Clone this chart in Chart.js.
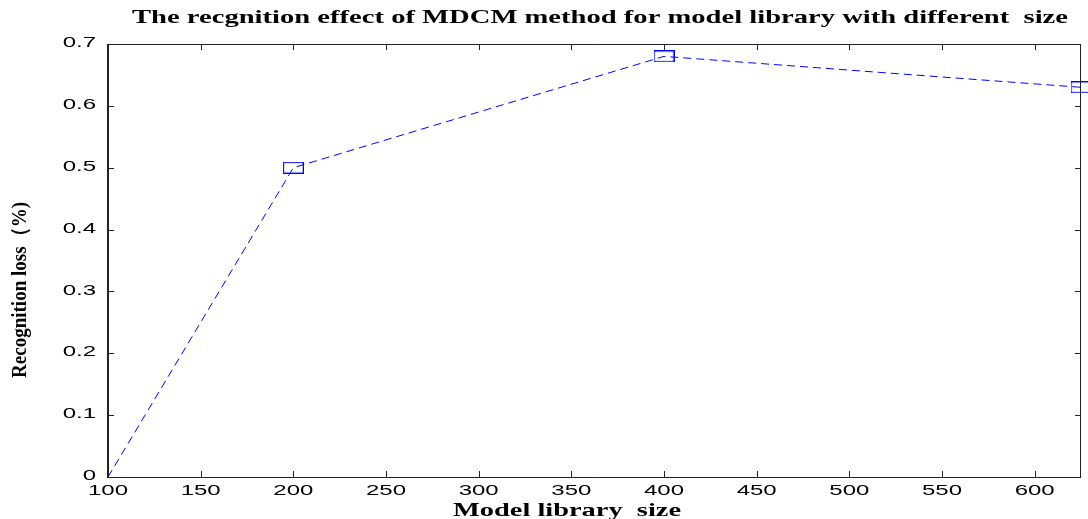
<!DOCTYPE html>
<html>
<head>
<meta charset="utf-8">
<script src="https://cdn.jsdelivr.net/npm/chart.js@4.4.0/dist/chart.umd.min.js"></script>
<style>
  html, body { margin: 0; padding: 0; background: #fff; }
  #wrap { width: 1088px; height: 519px; }
</style>
</head>
<body>
<div id="wrap"><canvas id="chart" width="1088" height="519"></canvas></div>
<script>
// data
const librarySize = [100, 200, 400, 625];
const recognitionLoss = [0, 0.5, 0.68, 0.63];
const xTickValues = [100, 150, 200, 250, 300, 350, 400, 450, 500, 550, 600];
const yTickValues = [0, 0.1, 0.2, 0.3, 0.4, 0.5, 0.6, 0.7];
const yTickLabels = ['0', '0.1', '0.2', '0.3', '0.4', '0.5', '0.6', '0.7'];

const chartTitle = 'The recgnition effect of MDCM method for model library with different  size';
const xTitle = 'Model library  size';
const yTitle = 'Recognition loss\uFF08%)';

// hollow box marker, a bit wider than tall like the original
function makeMarker() {
    const c = document.createElement('canvas');
    c.width = 21; c.height = 12;
    const g = c.getContext('2d');
    g.strokeStyle = '#0000ff';
    g.lineWidth = 1.2;
    g.strokeRect(0.6, 0.6, 19.8, 10.8);
    return c;
}

// draw text squeezed/stretched to a given width
function fitText(ctx, text, x, y, font, width, rotate) {
    ctx.save();
    ctx.font = font;
    const w = ctx.measureText(text).width;
    ctx.translate(x, y);
    if (rotate) ctx.rotate(-Math.PI / 2);
    ctx.scale(width / w, 1);
    ctx.textAlign = 'center';
    ctx.textBaseline = 'middle';
    ctx.fillStyle = '#000';
    ctx.fillText(text, 0, 0);
    ctx.restore();
}

function stretchText(ctx, text, x, y, align, sx) {
    ctx.save();
    ctx.translate(x, y);
    ctx.scale(sx, 1);
    ctx.textAlign = align;
    ctx.fillText(text, 0, 0);
    ctx.restore();
}

// matlab style box with inward ticks
const matlabAxes = {
    id: 'matlabAxes',
    afterDraw(chart) {
        const ctx = chart.ctx;
        const a = chart.chartArea;
        const xs = chart.scales.x, ys = chart.scales.y;
        const tick = 6;

        ctx.save();
        ctx.strokeStyle = '#222';
        ctx.lineWidth = 1;
        ctx.beginPath();
        ctx.moveTo(a.left, a.top + 0.5); ctx.lineTo(a.right, a.top + 0.5);
        ctx.moveTo(a.left, a.bottom + 0.5); ctx.lineTo(a.right, a.bottom + 0.5);
        ctx.moveTo(a.right - 0.5, a.top); ctx.lineTo(a.right - 0.5, a.bottom);
        xTickValues.forEach(v => {
            const px = Math.round(xs.getPixelForValue(v)) + 0.5;
            ctx.moveTo(px, a.bottom); ctx.lineTo(px, a.bottom - tick);
            ctx.moveTo(px, a.top); ctx.lineTo(px, a.top + tick);
        });
        yTickValues.forEach(v => {
            const py = Math.round(ys.getPixelForValue(v)) + 0.5;
            ctx.moveTo(a.left, py); ctx.lineTo(a.left + tick, py);
            ctx.moveTo(a.right, py); ctx.lineTo(a.right - tick, py);
        });
        ctx.stroke();
        ctx.lineWidth = 2;
        ctx.beginPath();
        ctx.moveTo(a.left, a.top); ctx.lineTo(a.left, a.bottom + 1);
        ctx.stroke();

        // tick labels
        ctx.fillStyle = '#000';
        ctx.font = '15px "Liberation Sans", Arial, sans-serif';
        ctx.textBaseline = 'middle';
        xTickValues.forEach(v => {
            stretchText(ctx, String(v), xs.getPixelForValue(v), a.bottom + 14, 'center', 1.6);
        });
        yTickValues.forEach((v, i) => {
            stretchText(ctx, yTickLabels[i], a.left - 12, ys.getPixelForValue(v) - 1, 'right', 1.6);
        });

        // titles
        fitText(ctx, chartTitle, 600, 18, 'bold 19px "Liberation Serif", "Times New Roman", serif', 936, false);
        fitText(ctx, xTitle, 567, 511, 'bold 19px "Liberation Serif", "Times New Roman", serif', 228, false);
        fitText(ctx, yTitle, 21, 290, 'bold 21px "Liberation Serif", "Times New Roman", serif', 176, true);
        ctx.restore();
    }
};

const marker = makeMarker();

new Chart(document.getElementById('chart'), {
    type: 'line',
    data: {
        datasets: [{
            data: librarySize.map((x, i) => ({ x: x, y: recognitionLoss[i] })),
            borderColor: '#0000ff',
            borderWidth: 1,
            borderDash: [8, 5],
            pointStyle: marker,
            pointRadius: [0, 6, 6, 6],
            tension: 0,
            fill: false,
            clip: false
        }]
    },
    options: {
        responsive: false,
        animation: false,
        layout: { padding: { left: 108, top: 44, right: 1, bottom: 42 } },
        plugins: {
            legend: { display: false },
            tooltip: { enabled: false },
            title: { display: false }
        },
        scales: {
            x: { type: 'linear', min: 100, max: 625, display: false },
            y: { type: 'linear', min: 0, max: 0.7, display: false }
        }
    },
    plugins: [matlabAxes]
});
</script>
</body>
</html>
